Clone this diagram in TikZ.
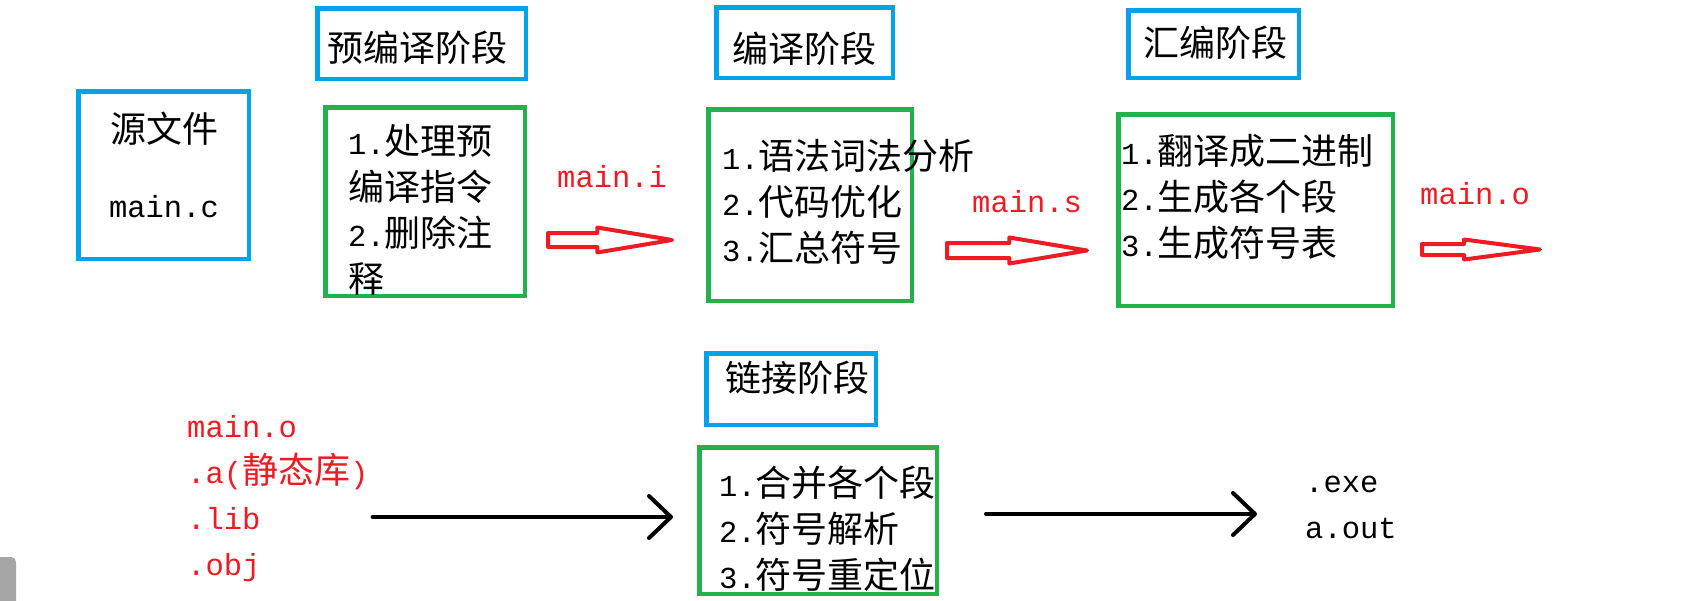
\documentclass[tikz,border=0pt]{standalone}
\usepackage{fontspec}
\setmainfont{Noto Sans CJK SC}
\newfontfamily\latfont{Liberation Mono}
\usetikzlibrary{shapes.arrows,arrows.meta,positioning}
\definecolor{paintblue}{HTML}{00A2E8}
\definecolor{paintgreen}{HTML}{22B14C}
\definecolor{paintred}{HTML}{ED1C24}
\newcommand{\latn}[1]{{\latfont\fontsize{30.5pt}{46pt}\selectfont #1}}

\begin{document}
\begin{tikzpicture}[
        x=1pt, y=-1pt,
        every node/.style={inner sep=0pt, font=\fontsize{36pt}{46pt}\selectfont},
        stage/.style={draw=paintblue, line width=4.5pt},
        task/.style={draw=paintgreen, line width=4.5pt},
        redtext/.style={text=paintred, anchor=base west},
        fatarrow/.style={single arrow, anchor=tail, draw=paintred, line width=4pt, line join=round, single arrow tip angle=19},
        joinline/.style={draw, line width=4pt, line cap=round, -{Straight Barb[length=22pt, width=42pt, round]}}
    ]
        \useasboundingbox (0,0) rectangle (1703,600);

        % source file
        \node[stage, minimum width=170.5pt, minimum height=167.5pt] (src) at (163.5,175) {};
        \node[anchor=base] (srcname) at (164,142) {源文件};
        \node[anchor=base] (srcfile) at (164,217) {\latn{main.c}};

        % preprocessing (multi-line nodes sit on their last line)
        \node[stage, minimum width=208.5pt, minimum height=70.5pt] (pre) at (421.5,43.5) {};
        \node[anchor=base west] (pretitle) at (327,61) {预编译阶段};
        \node[task, minimum width=199.5pt, minimum height=188.5pt] (prework) at (425,201.5) {};
        \node[anchor=base west, align=left] (prejobs) at (348,292) {\latn{1.}处理预\\编译指令\\\latn{2.}删除注\\释};

        % compilation
        \node[stage, minimum width=176.5pt, minimum height=70.5pt] (comp) at (804.5,42.5) {};
        \node[anchor=base west] (comptitle) at (732,62) {编译阶段};
        \node[task, minimum width=203.5pt, minimum height=191.5pt] (compwork) at (810,205) {};
        \node[anchor=base west, align=left] (compjobs) at (722,261) {\latn{1.}语法词法分析\\\latn{2.}代码优化\\\latn{3.}汇总符号};

        % assembly
        \node[stage, minimum width=170.5pt, minimum height=67.5pt] (asm) at (1213.5,44) {};
        \node[anchor=base west] (asmtitle) at (1143,56) {汇编阶段};
        \node[task, minimum width=274.5pt, minimum height=191.5pt] (asmwork) at (1255.5,210) {};
        \node[anchor=base west, align=left] (asmjobs) at (1121,256) {\latn{1.}翻译成二进制\\\latn{2.}生成各个段\\\latn{3.}生成符号表};

        % linking
        \node[stage, minimum width=169.5pt, minimum height=71.5pt] (link) at (791,389) {};
        \node[anchor=base west] (linktitle) at (725,391) {链接阶段};
        \node[task, minimum width=237.5pt, minimum height=146.5pt] (linkwork) at (818,520.5) {};
        \node[anchor=base west, align=left] (linkjobs) at (719,588) {\latn{1.}合并各个段\\\latn{2.}符号解析\\\latn{3.}符号重定位};

        % intermediate files
        \node[redtext] (ifile) at (557,187) {\latn{main.i}};
        \node[redtext] (sfile) at (972,212) {\latn{main.s}};
        \node[redtext] (ofile) at (1420,204) {\latn{main.o}};
        \node[fatarrow, minimum height=124pt, inner ysep=5pt, single arrow head extend=5.5pt] (toi) at (546,240) {};
        \node[fatarrow, minimum height=140pt, inner ysep=5.5pt, single arrow head extend=5.5pt] (tos) at (945,250.5) {};
        \node[fatarrow, minimum height=118pt, inner ysep=3.5pt, single arrow head extend=4.5pt, single arrow tip angle=15] (too) at (1420,249.5) {};

        % linker inputs and outputs
        \node[redtext, align=left] (inputs) at (187,575) {\latn{main.o}\\\latn{.a(}静态库\latn{)}\\\latn{.lib}\\\latn{.obj}};
        \node[anchor=base west, align=left] (outputs) at (1305,538) {\latn{.exe}\\\latn{a.out}};
        \coordinate (linkin) at (673,517);
        \coordinate (linkout) at (986,514);
        \draw[joinline] ([xshift=4pt]inputs.east |- linkin) -- (linkin);
        \draw[joinline] (linkout) -- ([xshift=-48pt]outputs.west |- linkout);

        \fill[gray!70, rounded corners=5pt] (-5,557) rectangle (16,620);
    \end{tikzpicture}
\end{document}
